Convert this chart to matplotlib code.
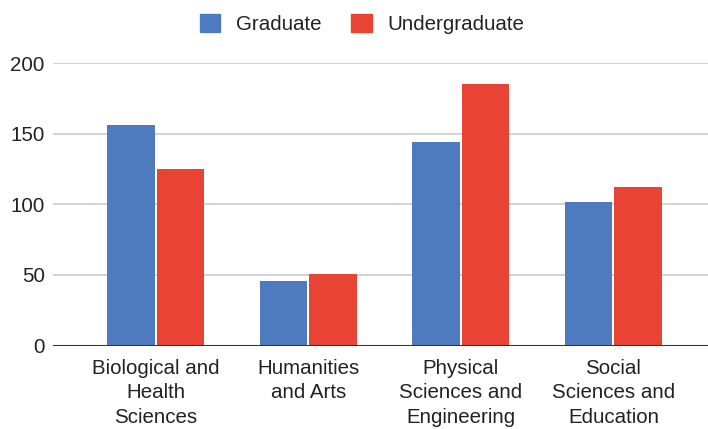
import matplotlib
matplotlib.use("Agg")
import matplotlib.pyplot as plt
from matplotlib.patches import Patch
import numpy as np

categories = ["Biological and\nHealth\nSciences", "Humanities\nand Arts",
              "Physical\nSciences and\nEngineering", "Social\nSciences and\nEducation"]
graduate = [156, 46, 144, 102]
undergraduate = [125, 51, 185, 112]
series_names = ["Graduate", "Undergraduate"]
yticks = [0, 50, 100, 150, 200]

blue = "#4e7bbf"
red = "#e94335"

plt.rcParams['font.family'] = ['Liberation Sans', 'DejaVu Sans']
fs = 14.8

fig = plt.figure(figsize=(7.08, 4.29), dpi=100)
ax = fig.add_axes([53/708, 83.5/429, 1 - 53/708, (345.5 - 63.3)/429])

x = np.arange(len(categories))
w = 0.311
off = 0.1623
ax.bar(x - off, graduate, width=w, color=blue, zorder=3)
ax.bar(x + off, undergraduate, width=w, color=red, zorder=3)

ax.set_xlim(-0.675, 3.62)
ax.set_ylim(0, 200)
ax.set_yticks(yticks)
ax.set_yticklabels([str(t) for t in yticks], fontsize=fs, color="#222222")
ax.set_xticks(x)
ax.set_xticklabels(categories, fontsize=fs, color="#222222", linespacing=1.38)
ax.tick_params(axis='both', length=0)
ax.tick_params(axis='y', pad=6)
ax.tick_params(axis='x', pad=9.5)
for s in ax.spines.values():
    s.set_visible(False)
ax.yaxis.grid(True, color="#cccccc", linewidth=1.2, zorder=0)
ax.axhline(0, color="#333333", linewidth=1.5, zorder=4)

handles = [Patch(color=blue), Patch(color=red)]
fig.legend(handles, series_names, loc='center', bbox_to_anchor=(362/708, 1 - 24/429),
           ncol=2, frameon=False, fontsize=fs, handlelength=1.0, handleheight=1.0,
           handletextpad=0.75, columnspacing=1.45, labelcolor="#222222")

fig.savefig("out.png", dpi=100)
